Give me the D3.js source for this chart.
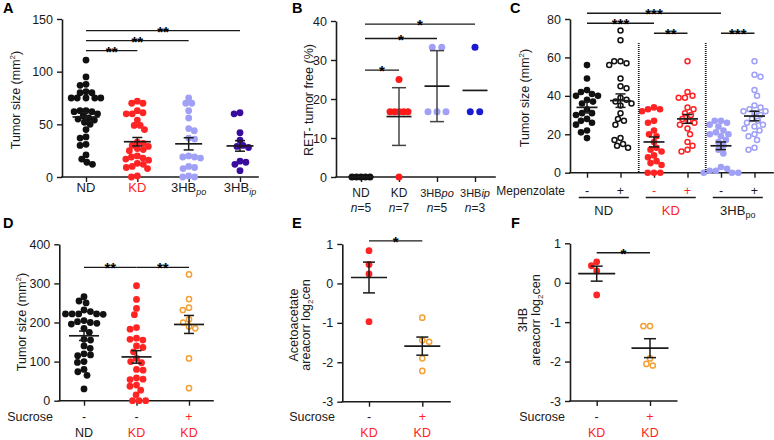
<!DOCTYPE html>
<html><head><meta charset="utf-8">
<script src="https://cdn.jsdelivr.net/npm/d3@7"></script>
<style>body{margin:0;background:#fff}</style>
</head><body>
<script>
// ================= DATA =================
// Panel A  (tumor size, mm2)
const aCats = ["ND", "KD", "3HBpo", "3HBip"];
const aND = [111,95,88,87,81,80,80,75,75,75,75,75,63,63,62,62,60,58,56,55,54,52,50,45,38,37,31,30,21,17,14,12];
const aKD = [72,70,70,63,61,60,60,54,49,49,45,33,32,30,29,27,26,25,20,19,18,17,16,13,12,10,9,8,1,0];
const aHBpo = [75,70,70,63,56,46,44,37,36,20,19,19,18,10,9,8,1,0,0];
const aHBip = [61,60,42,35,30,29,28,15,14,12,6];
const aMean = [57, 33.5, 31.5, 29.5];
const aSem = [4.3, 4, 5.8, 5];
const aTicks = [0, 50, 100, 150];
const aSig = [[0,1,120,"**"],[0,2,129.5,"**"],[0,3,139,"**"]];

// Panel B  (RET- tumor free, %)
const bCats = ["ND", "KD", "3HBpo", "3HBip"];
const bN = [5, 7, 5, 3];
const bND = [0,0,0,0,0];
const bKD = [25,16.7,16.7,16.7,16.7,16.7,0];
const bHBpo = [33.3,33.3,16.7,16.7,16.7];
const bHBip = [33.3,16.7,16.7];
const bMean = [0, 15.5, 23.3, 22.2];
const bLo = [null, 8.1, 14.2, null];
const bHi = [null, 22.9, 32.4, null];
const bTicks = [0, 10, 20, 30, 40];
const bSig = [[0,1,27.4,"*"],[0,2,35.5,"*"],[0,3,39.2,"*"]];

// Panel C  (tumor size, mm2, +/- Mepenzolate)
const cGroups = ["ND", "KD", "3HBpo"];
const cMep = ["-", "+", "-", "+", "-", "+"];
const cNDm = [56,49,43,42,41,40,40,38,37,36,33,31,31,30,28,27,26,25,22,21,18];
const cNDp = [74,69,58,58,57,56,49,45,44,38,39,37,36,35,31,28,27,25,18,17,15,14,13];
const cKDm = [34,33,33,32,27,26,22,20,19,16,13,12,11,9,8,6,5,4,0,0,0];
const cKDp = [58,42,40,39,39,34,33,31,30,28,27,26,25,23,20,16,14,12,11];
const cHBm = [27,27,26,25,24,22,21,20,20,19,17,16,14,12,10,3,2,1,1,0,0,0];
const cHBp = [58,51,50,43,40,35,34,33,32,32,31,30,28,27,26,25,24,23,22,20,19,17,13,12];
const cMean = [34, 37.5, 16, 28, 14, 29.5];
const cSem = [2.9, 3.5, 2.6, 2.3, 2, 2.5];
const cTicks = [0, 20, 40, 60, 80];
const cSig = [[0,2,77.8,"***"],[0,4,83,"***"],[2,3,72.6,"**"],[4,5,72.6,"***"]];

// Panel D  (tumor size, mm2, +/- Sucrose)
const dCats = ["ND", "KD", "KD"];
const dSuc = ["-", "-", "+"];
const dND = [266,255,250,232,228,222,222,222,222,221,205,202,200,198,196,185,175,157,155,140,134,120,117,115,100,98,80,74,65,30];
const dKD = [294,259,236,220,187,183,160,157,155,140,136,125,108,100,97,80,78,58,55,54,40,37,27,15,0,0,0];
const dKDs = [323,260,238,232,208,200,190,185,108,32];
const dMean = [166, 112, 195];
const dSem = [12, 16, 23];
const dTicks = [0, 100, 200, 300, 400];
const dSig = [[0,1,341,"**"],[1,2,341,"**"]];

// Panel E  (Acetoacetate areacorr log2cen)
const eCats = ["KD", "KD"];
const eSuc = ["-", "+"];
const eKDm = [0.83, 0.48, 0.24, -0.97];
const eKDp = [-0.87, -1.48, -1.44, -1.9, -2.22];
const eMean = [0.15, -1.59];
const eSem = [0.39, 0.23];
const eTicks = [-3, -2, -1, 0, 1];
const eSig = [[0,1,1.08,"*"]];

// Panel F  (3HB areacorr log2cen)
const fCats = ["KD", "KD"];
const fSuc = ["-", "+"];
const fKDm = [0.53, 0.43, 0.3, -0.31];
const fKDp = [-1.1, -1.1, -1.92, -2.1, -2.06];
const fMean = [0.23, -1.66];
const fSem = [0.19, 0.24];
const fTicks = [-3, -2, -1, 0, 1];
const fSig = [[0,1,0.76,"*"]];

// ================= DRAWING =================
const FONT = '"Liberation Sans", Arial, Helvetica, sans-serif';
const RED = "#ff2424", LAV = "#a0a0f6", INDIGO = "#3a0c9e", BLUE = "#1a1ad0", ORANGE = "#f5a035", INK = "#1a1a1a";
const svg = d3.select("body").append("svg").attr("width", 774).attr("height", 440)
  .attr("font-family", FONT);

function swarm(values, y, d) {
  const pts = values.map(v => ({v, y: y(v)})).sort((a, b) => a.y - b.y);
  const placed = [];
  pts.forEach((p, k) => {
    const cands = [0];
    placed.forEach(q => {
      const dy = p.y - q.y;
      if (Math.abs(dy) < d) { const dx = Math.sqrt(d*d - dy*dy); cands.push(q.dx + dx, q.dx - dx); }
    });
    cands.sort((a, b) => Math.abs(a) - Math.abs(b) || (k % 2 ? a - b : b - a));
    for (const c of cands) {
      if (placed.every(q => (q.dx - c) ** 2 + (q.y - p.y) ** 2 >= d*d - 0.01)) { p.dx = c; break; }
    }
    if (p.dx === undefined) p.dx = 0;
    placed.push(p);
  });
  return placed;
}
function tieRows(values, y, maxStep, span) {
  const groups = d3.groups(values, v => v);
  const out = [];
  groups.forEach(([v, arr]) => {
    const n = arr.length, step = n > 1 ? Math.min(maxStep, span / (n - 1)) : 0;
    arr.forEach((_, i) => out.push({v, y: y(v), dx: (i - (n - 1) / 2) * step}));
  });
  return out;
}

function panel(cfg) {
  const y = d3.scaleLinear().domain(cfg.domain).range(cfg.yRange);
  const x = d3.scalePoint().domain(d3.range(cfg.groups.length)).range(cfg.catRange);
  const y0 = cfg.yRange[0];
  // y axis
  const ya = svg.append("g").attr("transform", `translate(${cfg.axisX},0)`)
    .call(d3.axisLeft(y).tickValues(cfg.ticks).tickSize(5).tickSizeOuter(0).tickPadding(4).tickFormat(d => String(d)))
    .attr("font-family", FONT).attr("font-size", 12.5);
  ya.select(".domain").attr("stroke", INK).attr("stroke-width", 1.6);
  ya.selectAll(".tick line").attr("stroke", INK).attr("stroke-width", 1.4);
  ya.selectAll(".tick text").attr("fill", INK);
  // x axis
  const xa = svg.append("g").attr("transform", `translate(0,${y0})`)
    .call(d3.axisBottom(x).tickSize(5).tickSizeOuter(0).tickFormat(""));
  xa.select(".domain").remove();
  xa.selectAll(".tick line").attr("stroke", INK).attr("stroke-width", 1.4);
  svg.append("line").attr("x1", cfg.axisX).attr("x2", cfg.xEnd).attr("y1", y0).attr("y2", y0)
    .attr("stroke", INK).attr("stroke-width", 1.6).attr("stroke-linecap", "square");
  // dots
  cfg.groups.forEach((g, i) => {
    const pts = cfg.rows ? tieRows(g.values, y, cfg.rows[0], cfg.rows[1]) : swarm(g.values, y, cfg.d);
    svg.append("g").selectAll("circle").data(pts).join("circle")
      .attr("cx", p => x(i) + p.dx).attr("cy", p => p.y)
      .attr("r", g.open ? cfg.r - 0.8 : cfg.r)
      .attr("fill", g.open ? "#fff" : g.color)
      .attr("stroke", g.open ? g.color : "none").attr("stroke-width", 1.5);
  });
  // mean and error bars
  cfg.groups.forEach((g, i) => {
    const cx = x(i);
    if (cfg.lo[i] != null) {
      const ylo = y(cfg.lo[i]), yhi = y(cfg.hi[i]);
      svg.append("line").attr("x1", cx).attr("x2", cx).attr("y1", ylo).attr("y2", yhi)
        .attr("stroke", cfg.errColor || INK).attr("stroke-width", 1.5);
      [ylo, yhi].forEach(yy => svg.append("line").attr("x1", cx - cfg.cap).attr("x2", cx + cfg.cap)
        .attr("y1", yy).attr("y2", yy).attr("stroke", cfg.errColor || INK).attr("stroke-width", 1.5));
    }
    svg.append("line").attr("x1", cx - cfg.half).attr("x2", cx + cfg.half)
      .attr("y1", y(cfg.mean[i])).attr("y2", y(cfg.mean[i]))
      .attr("stroke", INK).attr("stroke-width", 1.7);
  });
  // significance bars
  cfg.sig.forEach(([a, b, lvl, lab]) => {
    const yy = y(lvl);
    const x1 = x(a) + (cfg.sigInset || 0), x2 = x(b);
    svg.append("line").attr("x1", x1).attr("x2", x2).attr("y1", yy).attr("y2", yy)
      .attr("stroke", INK).attr("stroke-width", 1.4);
    svg.append("text").attr("x", (x1 + x2) / 2).attr("y", yy + 6).attr("text-anchor", "middle")
      .attr("font-size", 15).attr("font-weight", "bold").attr("fill", "#000").text(lab);
  });
  return {x, y};
}

function letter(t, x, y) {
  svg.append("text").attr("x", x).attr("y", y).attr("font-size", 14.5).attr("font-weight", "bold").attr("fill", "#000").text(t);
}
function ylabel(lines, x, cy) {
  lines.forEach(([parts, bx]) => {
    const t = svg.append("text").attr("transform", `translate(${bx},${cy}) rotate(-90)`)
      .attr("text-anchor", "middle").attr("font-size", 12.5).attr("fill", INK);
    parts.forEach(p => {
      const s = t.append("tspan").text(p.t);
      if (p.sup) s.attr("font-size", 8).attr("dy", -5);
      if (p.sub) s.attr("font-size", 8).attr("dy", 3);
      if (p.back) s.attr("dy", p.back);
    });
  });
}
function label(x, y, parts, color, size) {
  const t = svg.append("text").attr("x", x).attr("y", y).attr("text-anchor", "middle")
    .attr("font-size", size || 13).attr("fill", color || INK);
  parts.forEach(p => {
    const s = t.append("tspan").text(p.t);
    if (p.it) s.attr("font-style", "italic");
    if (p.sub) s.attr("font-size", 9).attr("dy", 3);
  });
  return t;
}

// ---------- Panel A ----------
letter("A", 3, 12.5);
const A = panel({
  domain: [0, 150], yRange: [177, 19], axisX: 62, xEnd: 258, catRange: [86, 240], ticks: aTicks,
  groups: [{values: aND, color: "#111"}, {values: aKD, color: RED}, {values: aHBpo, color: LAV}, {values: aHBip, color: INDIGO}],
  r: 3.4, d: 6, half: 13.5, cap: 5, mean: aMean,
  lo: aMean.map((m, i) => m - aSem[i]), hi: aMean.map((m, i) => m + aSem[i]), sig: aSig
});
ylabel([[[{t: "Tumor size (mm"}, {t: "2", sup: true}, {t: ")", back: 5}], 20]], 0, 100);
label(A.x(0), 191.5, [{t: aCats[0]}]);
label(A.x(1), 191.5, [{t: aCats[1]}], RED);
label(A.x(2), 191.5, [{t: "3HB"}, {t: "po", it: true, sub: true}]);
label(A.x(3), 191.5, [{t: "3HB"}, {t: "ip", it: true, sub: true}]);

// ---------- Panel B ----------
letter("B", 292, 12.5);
const B = panel({
  domain: [0, 40], yRange: [177, 21], axisX: 336, xEnd: 495, catRange: [361, 475], ticks: bTicks,
  groups: [{values: bND, color: "#111"}, {values: bKD, color: "#ff1a1a"}, {values: bHBpo, color: LAV}, {values: bHBip, color: BLUE}],
  r: 3.5, rows: [9.5, 18], half: 12.5, cap: 7, mean: bMean, lo: bLo, hi: bHi, errColor: "#444",
  sig: bSig, sigInset: 4
});
ylabel([[[{t: "RET- tumor free (%)"}], 313]], 0, 100);
label(B.x(0), 196.5, [{t: "ND"}], INK, 12);
label(B.x(1), 196.5, [{t: "KD"}], INK, 12);
label(B.x(2), 196.5, [{t: "3HB"}, {t: "po", it: true}], INK, 11);
label(B.x(3), 196.5, [{t: "3HB"}, {t: "ip", it: true}], INK, 11);
bN.forEach((n, i) => label(B.x(i), 211.5, [{t: "n", it: true}, {t: "=" + n}], INK, 12));

// ---------- Panel C ----------
letter("C", 510, 12.5);
const C = panel({
  domain: [0, 80], yRange: [172.7, 19], axisX: 570, xEnd: 773, catRange: [587, 754.5], ticks: cTicks,
  groups: [{values: cNDm, color: "#111"}, {values: cNDp, color: "#111", open: true},
           {values: cKDm, color: RED}, {values: cKDp, color: RED, open: true},
           {values: cHBm, color: LAV}, {values: cHBp, color: LAV, open: true}],
  r: 3.3, d: 6.3, half: 10.5, cap: 5, mean: cMean,
  lo: cMean.map((m, i) => m - cSem[i]), hi: cMean.map((m, i) => m + cSem[i]), sig: cSig
});
ylabel([[[{t: "Tumor size (mm"}, {t: "2", sup: true}, {t: ")", back: 5}], 529]], 0, 98);
[1, 3].forEach(i => {
  const sx = (C.x(i) + C.x(i + 1)) / 2 + 1.5;
  svg.append("line").attr("x1", sx).attr("x2", sx).attr("y1", C.y(67.5)).attr("y2", C.y(0))
    .attr("stroke", INK).attr("stroke-width", 1.8).attr("stroke-dasharray", "1,1");
});
svg.append("text").attr("x", 565).attr("y", 195).attr("text-anchor", "end").attr("font-size", 12).attr("fill", INK).text("Mepenzolate");
cMep.forEach((s, i) => label(C.x(i), 195, [{t: s}], (i === 2 || i === 3) ? RED : INK, 12.5));
const cCol = [INK, RED, INK];
cGroups.forEach((g, k) => {
  const cx = (C.x(2 * k) + C.x(2 * k + 1)) / 2;
  svg.append("line").attr("x1", cx - 25).attr("x2", cx + 25).attr("y1", 197.5).attr("y2", 197.5)
    .attr("stroke", INK).attr("stroke-width", 1.4);
  if (k < 2) label(cx, 215, [{t: g}], cCol[k]);
  else label(cx, 215, [{t: "3HB"}, {t: "po", sub: true}]);
});

// ---------- Panel D ----------
letter("D", 3, 228);
const D = panel({
  domain: [0, 400], yRange: [400.7, 244.3], axisX: 59.3, xEnd: 213, catRange: [84, 189], ticks: dTicks,
  groups: [{values: dND, color: "#111"}, {values: dKD, color: RED}, {values: dKDs, color: ORANGE, open: true}],
  r: 3.4, d: 6.6, half: 15, cap: 5, mean: dMean,
  lo: dMean.map((m, i) => m - dSem[i]), hi: dMean.map((m, i) => m + dSem[i]), sig: dSig
});
ylabel([[[{t: "Tumor size (mm"}, {t: "2", sup: true}, {t: ")", back: 5}], 26]], 0, 322);
svg.append("text").attr("x", 53).attr("y", 421).attr("text-anchor", "end").attr("font-size", 12.5).attr("fill", INK).text("Sucrose");
dSuc.forEach((s, i) => label(D.x(i), 421, [{t: s}], i === 2 ? RED : INK, 12.5));
dCats.forEach((c, i) => label(D.x(i), 437, [{t: c}], i === 0 ? INK : RED, 12.5));

// ---------- Panel E ----------
letter("E", 292, 228);
const E = panel({
  domain: [-3, 1], yRange: [401.7, 244], axisX: 342.3, xEnd: 450, catRange: [369, 422.3], ticks: eTicks,
  groups: [{values: eKDm, color: RED}, {values: eKDp, color: ORANGE, open: true}],
  r: 3.4, d: 7, half: 18, cap: 6, mean: eMean,
  lo: eMean.map((m, i) => m - eSem[i]), hi: eMean.map((m, i) => m + eSem[i]), sig: eSig
});
ylabel([[[{t: "Acetoacetate"}], 298], [[{t: "areacorr log"}, {t: "2", sub: true}, {t: "cen", back: -3}], 310]], 0, 325);
svg.append("text").attr("x", 335).attr("y", 421).attr("text-anchor", "end").attr("font-size", 12.5).attr("fill", INK).text("Sucrose");
eSuc.forEach((s, i) => label(E.x(i), 421, [{t: s}], i === 1 ? RED : INK, 12.5));
eCats.forEach((c, i) => label(E.x(i), 437, [{t: c}], RED, 12.5));

// ---------- Panel F ----------
letter("F", 511, 228);
const F = panel({
  domain: [-3, 1], yRange: [401, 243.3], axisX: 570, xEnd: 676.7, catRange: [596.7, 650], ticks: fTicks,
  groups: [{values: fKDm, color: RED}, {values: fKDp, color: ORANGE, open: true}],
  r: 3.4, d: 6.6, half: 18.5, cap: 6, mean: fMean,
  lo: fMean.map((m, i) => m - fSem[i]), hi: fMean.map((m, i) => m + fSem[i]), sig: fSig
});
ylabel([[[{t: "3HB"}], 527], [[{t: "areacorr log"}, {t: "2", sub: true}, {t: "cen", back: -3}], 540]], 0, 320);
svg.append("text").attr("x", 565).attr("y", 421).attr("text-anchor", "end").attr("font-size", 12.5).attr("fill", INK).text("Sucrose");
fSuc.forEach((s, i) => label(F.x(i), 421, [{t: s}], i === 1 ? RED : INK, 12.5));
fCats.forEach((c, i) => label(F.x(i), 437, [{t: c}], RED, 12.5));
</script>
</body></html>
